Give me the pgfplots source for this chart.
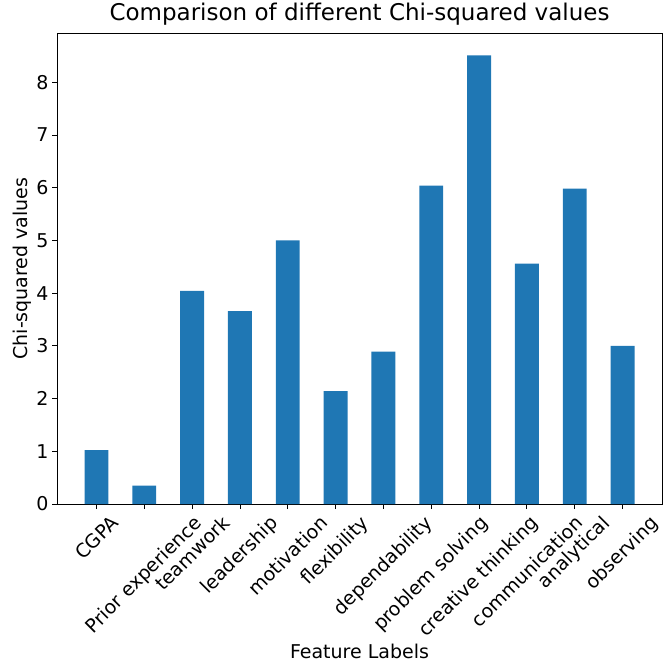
\documentclass[border=0pt]{standalone}
\usepackage{pgfplots}
\pgfplotsset{compat=1.18}
\usepackage{fontspec}
\setmainfont{DejaVu Sans}
\usepackage{graphicx}
\definecolor{barblue}{HTML}{1F77B4}
\newcommand{\rl}[1]{\rotatebox{45}{#1}}
\begin{document}
\begin{tikzpicture}
\begin{axis}[name=ax, scale only axis, width=605pt, height=471pt,
  xmin=-0.825, xmax=11.825, ymin=0, ymax=8.935,
  xtick={0,...,11},
  xticklabels={\rl{CGPA},\rl{Prior experience},\rl{teamwork},\rl{leadership},\rl{motivation},\rl{flexibility},\rl{dependability},\rl{problem solving},\rl{creative thinking},\rl{communication},\rl{analytical},\rl{observing}},
  xticklabel style={anchor=north, inner sep=0pt, yshift=-5pt},
  ytick={0,...,8},
  tick align=outside, xtick pos=left, ytick pos=left, major tick length=5pt,
  tick style={black, line width=0.8pt},
  axis line style={line width=0.8pt},
  tick label style={font=\fontsize{19}{23}\selectfont},
  /pgf/number format/assume math mode=true,
  title={Comparison of different Chi-squared values},
  title style={font=\fontsize{23}{27}\selectfont, yshift=-2pt},
  xlabel={Feature Labels}, ylabel={Chi-squared values},
  label style={font=\fontsize{19}{23}\selectfont},
  ylabel style={yshift=-2pt},
]
\addplot[ybar, bar width=0.5, fill=barblue, draw=none] coordinates {
(0,1.02) (1,0.35) (2,4.045) (3,3.66) (4,5.0) (5,2.14) (6,2.89) (7,6.04) (8,8.51) (9,4.56) (10,5.985) (11,3.0)};
\end{axis}
\pgfresetboundingbox
\path ([xshift=-57pt,yshift=-158pt]ax.south west) rectangle ([xshift=9pt,yshift=33pt]ax.north east);
\end{tikzpicture}
\end{document}
